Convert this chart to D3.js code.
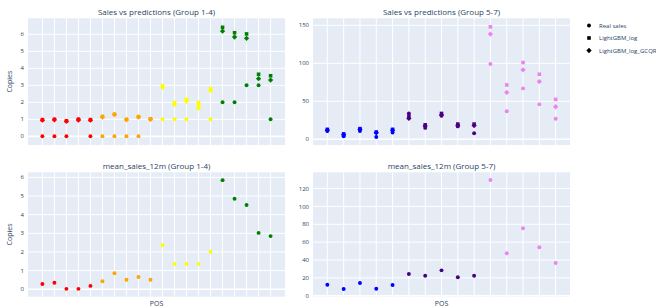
<!DOCTYPE html>
<html>
<head>
<meta charset="utf-8">
<script src="https://cdn.jsdelivr.net/npm/d3@7"></script>
<style>
  body { margin: 0; background: #fff; }
  svg { display: block; font-family: "Open Sans", verdana, arial, sans-serif; }
</style>
</head>
<body>
<svg width="656" height="308"></svg>
<script>
// Point-of-sale categories (labels are hidden on the chart)
const posA = ["A01","A02","A03","A04","A05","A06","A07","A08","A09","A10",
              "A11","A12","A13","A14","A15","A16","A17","A18","A19","A20"];
const groupA = [1,1,1,1,1, 2,2,2,2,2, 3,3,3,3,3, 4,4,4,4,4];
const posB = ["B01","B02","B03","B04","B05","B06","B07","B08","B09","B10",
              "B11","B12","B13","B14","B15"];
const groupB = [5,5,5,5,5, 6,6,6,6,6, 7,7,7,7,7];

// Sales vs predictions, group 1-4
const realA = [0,0,0,1,0, 0,0,0,0,1, 1,1,1,2,1, 2,2,3,3,1];
const lgbA  = [0.98,1.0,0.91,0.99,0.98, 1.17,1.3,1.0,1.16,1.03, 2.97,1.98,2.18,1.8,2.8, 6.41,6.09,6.02,3.65,3.56];
const gcqrA = [0.95,0.97,0.88,0.96,0.95, 1.13,1.27,0.97,1.13,1.0, 2.88,1.87,2.06,1.66,2.7, 6.18,5.84,5.76,3.39,3.31];

// Sales vs predictions, group 5-7
const realB = [11,4,11,3,9, 34,15,31,17,8, 99,37,67,46,27];
const lgbB  = [13,7,14,9.5,13, 30,19,34,20,20, 148,71.5,101,85.6,52.5];
const gcqrB = [12,6,13,8.5,12, 27.5,17.5,32,18.5,18, 138.5,61.7,91.4,75.9,42.8];

// mean_sales_12m
const meanA = [0.28,0.35,0.02,0.02,0.18, 0.43,0.86,0.51,0.66,0.51, 2.36,1.36,1.36,1.36,2.01, 5.85,4.85,4.52,3.02,2.85];
const meanB = [12.3,7.5,14.2,7.8,12, 24.3,22.4,28.4,20.6,22.4, 129.6,47.5,75.5,54.2,36.6];

const groupColors = {1:"red", 2:"orange", 3:"yellow", 4:"green", 5:"blue", 6:"indigo", 7:"violet"};
const seriesNames = ["Real sales", "LightGBM_log", "LightGBM_log_GCQR"];

// plotly-like diamond: a square turned 45 degrees
const diamond = {
  draw(context, size) {
    const r = Math.sqrt(size / 2);
    context.moveTo(0, -r);
    context.lineTo(r, 0);
    context.lineTo(0, r);
    context.lineTo(-r, 0);
    context.closePath();
  }
};
const seriesSymbols = [d3.symbolCircle, d3.symbolSquare, diamond];
const seriesSizes = [12, 13, 14];

const ticksTopA = [0,1,2,3,4,5,6];
const ticksTopB = [0,50,100,150];
const ticksBotA = [0,1,2,3,4,5,6];
const ticksBotB = [0,20,40,60,80,100,120];

const textColor = "#2a3f5f";
const svg = d3.select("svg");

function panel(opts) {
  const { x0, x1, y0, y1, cats, groups, series, domain, ticks, padding, title, yTitle, xTitle } = opts;

  const x = d3.scalePoint().domain(cats).range([x0, x1]).padding(padding);
  const y = d3.scaleLinear().domain(domain).range([y1, y0]);

  const g = svg.append("g");

  // Background
  g.append("rect")
    .attr("x", x0).attr("y", y0)
    .attr("width", x1 - x0).attr("height", y1 - y0)
    .attr("fill", "#E5ECF6");

  // Vertical grid
  g.selectAll(".vgrid").data(cats).join("line")
    .attr("x1", d => x(d)).attr("x2", d => x(d))
    .attr("y1", y0).attr("y2", y1)
    .attr("stroke", "#fff").attr("stroke-width", 1);

  // Horizontal grid
  g.selectAll(".hgrid").data(ticks).join("line")
    .attr("x1", x0).attr("x2", x1)
    .attr("y1", d => y(d)).attr("y2", d => y(d))
    .attr("stroke", "#fff").attr("stroke-width", d => d === 0 ? 1.6 : 1);

  // Tick labels
  g.selectAll(".tick").data(ticks).join("text")
    .attr("x", x0 - 4)
    .attr("y", d => y(d))
    .attr("dy", "0.35em")
    .attr("text-anchor", "end")
    .attr("fill", textColor)
    .style("font-size", "6px")
    .text(d => d);

  // Points
  series.forEach((vals, si) => {
    g.selectAll(null).data(vals).join("path")
      .attr("transform", (d, i) => `translate(${x(cats[i])},${y(d)})`)
      .attr("d", d3.symbol().type(seriesSymbols[si]).size(seriesSizes[si]))
      .attr("fill", (d, i) => groupColors[groups[i]]);
  });

  // Title
  g.append("text")
    .attr("x", (x0 + x1) / 2)
    .attr("y", y0 - 3.5)
    .attr("text-anchor", "middle")
    .attr("fill", textColor)
    .style("font-size", "8px")
    .text(title);

  if (yTitle) {
    g.append("text")
      .attr("transform", `translate(12,${(y0 + y1) / 2}) rotate(-90)`)
      .attr("text-anchor", "middle")
      .attr("fill", textColor)
      .style("font-size", "7px")
      .text(yTitle);
  }
  if (xTitle) {
    g.append("text")
      .attr("x", (x0 + x1) / 2)
      .attr("y", 305.5)
      .attr("text-anchor", "middle")
      .attr("fill", textColor)
      .style("font-size", "7px")
      .text(xTitle);
  }
}

panel({ x0: 28, x1: 285, y0: 18.3, y1: 145, cats: posA, groups: groupA,
  series: [realA, lgbA, gcqrA], domain: [-0.51, 6.94], ticks: ticksTopA, padding: 1.2,
  title: "Sales vs predictions (Group 1-4)", yTitle: "Copies" });

panel({ x0: 313, x1: 570, y0: 18.3, y1: 145, cats: posB, groups: groupB,
  series: [realB, lgbB, gcqrB], domain: [-7.5, 159.2], ticks: ticksTopB, padding: 0.88,
  title: "Sales vs predictions (Group 5-7)" });

panel({ x0: 28, x1: 285, y0: 172.3, y1: 296.7, cats: posA, groups: groupA,
  series: [meanA], domain: [-0.4, 6.27], ticks: ticksBotA, padding: 1.2,
  title: "mean_sales_12m (Group 1-4)", yTitle: "Copies", xTitle: "POS" });

panel({ x0: 313, x1: 570, y0: 172.3, y1: 296.7, cats: posB, groups: groupB,
  series: [meanB], domain: [-1.1, 138.2], ticks: ticksBotB, padding: 0.88,
  title: "mean_sales_12m (Group 5-7)", xTitle: "POS" });

// Legend
const legend = svg.append("g");
seriesNames.forEach((name, i) => {
  const ly = 25.5 + i * 12.5;
  legend.append("path")
    .attr("transform", `translate(589,${ly})`)
    .attr("d", d3.symbol().type(seriesSymbols[i]).size(seriesSizes[i]))
    .attr("fill", "#000");
  legend.append("text")
    .attr("x", 599).attr("y", ly)
    .attr("dy", "0.35em")
    .attr("fill", textColor)
    .style("font-size", "6px")
    .text(name);
});
</script>
</body>
</html>
